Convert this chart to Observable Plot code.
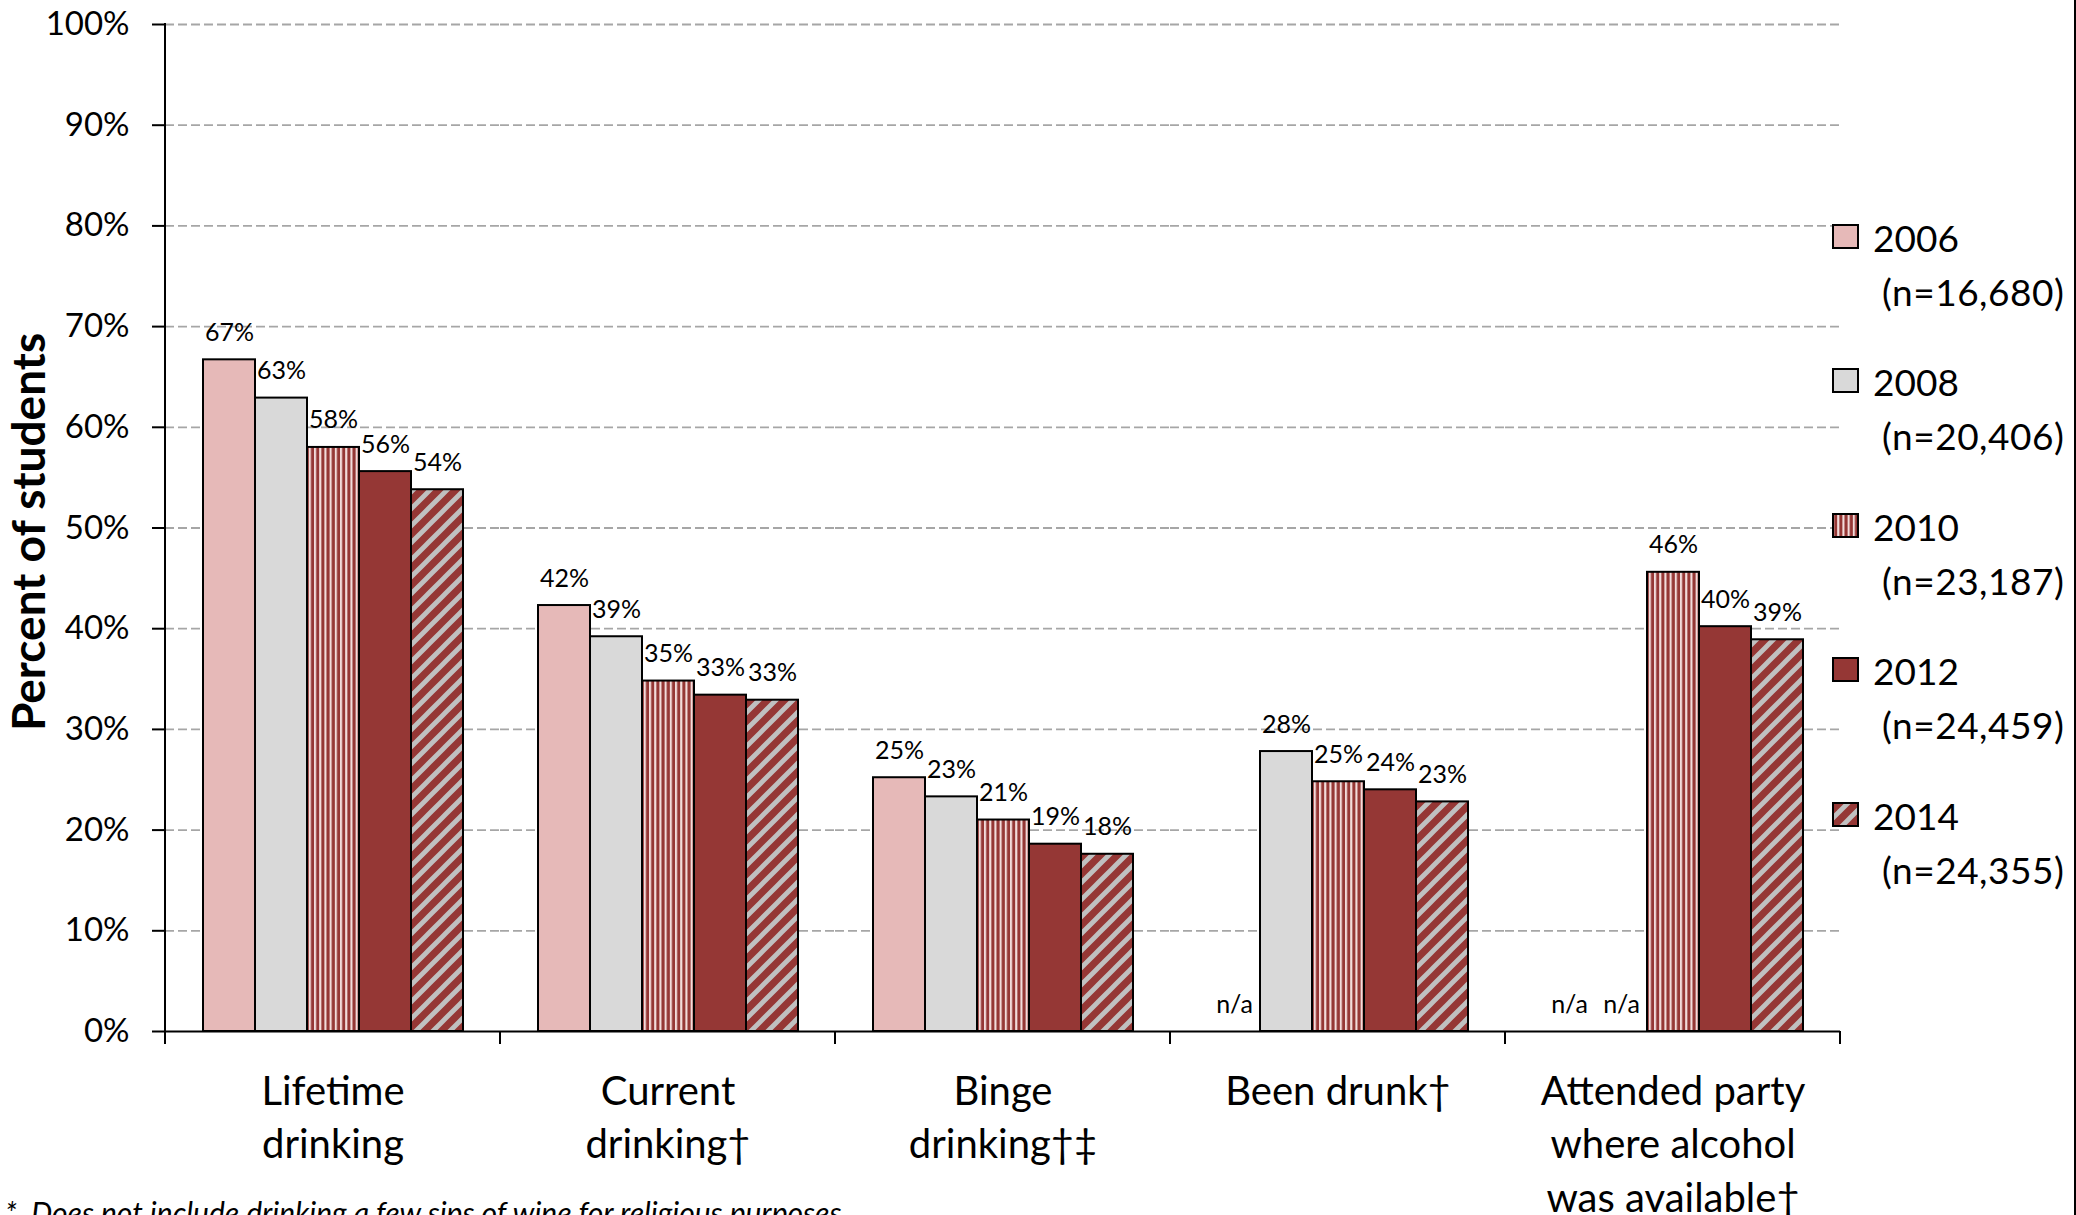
<!DOCTYPE html>
<html><head><meta charset="utf-8">
<script src="https://cdn.jsdelivr.net/npm/d3@7"></script>
<script src="https://cdn.jsdelivr.net/npm/@observablehq/plot@0.6"></script>
<style>
html,body{margin:0;padding:0;background:#fff;}
#wrap{position:relative;width:2076px;height:1215px;overflow:hidden;font-family:Lato,sans-serif;color:#000;background:#fff;}
#wrap svg.plot{position:absolute;left:0;top:0;}
.abs{position:absolute;white-space:pre;line-height:1;}
</style></head><body>
<svg width="0" height="0" style="position:absolute">
  <defs>
    <pattern id="p2010" patternUnits="userSpaceOnUse" width="5.2" height="10">
      <rect width="5.2" height="10" fill="#953735"/>
      <rect x="0" width="2.1" height="10" fill="#F2DCDB"/>
    </pattern>
    <pattern id="p2014" patternUnits="userSpaceOnUse" width="17" height="17">
      <rect width="17" height="17" fill="#953735"/>
      <path d="M-4.25,4.25L4.25,-4.25M0,17L17,0M12.75,21.25L21.25,12.75" stroke="#C0C0C0" stroke-width="4.8"/>
    </pattern>
  </defs>
</svg>
<div id="wrap"></div>
<script>
// ---- data ----
const categories = ["Lifetime\ndrinking", "Current\ndrinking\u2020", "Binge\ndrinking\u2020\u2021", "Been drunk\u2020", "Attended party\nwhere alcohol\nwas available\u2020"];
const years = ["2006", "2008", "2010", "2012", "2014"];
const sampleSizes = ["(n=16,680)", "(n=20,406)", "(n=23,187)", "(n=24,459)", "(n=24,355)"];
const values2006 = [66.7, 42.3, 25.2, null, null];
const values2008 = [62.9, 39.2, 23.3, 27.8, null];
const values2010 = [58.0, 34.8, 21.0, 24.8, 45.6];
const values2012 = [55.6, 33.4, 18.6, 24.0, 40.2];
const values2014 = [53.8, 32.9, 17.6, 22.8, 38.9];
const yTicks = [0, 10, 20, 30, 40, 50, 60, 70, 80, 90, 100];
const yearFills = ["#E6B9B8", "#D9D9D9", "url(#p2010)", "#953735", "url(#p2014)"];
const yTitle = "Percent of students";
const footnote = "*  Does not include drinking a few sips of wine for religious purposes";

const series = [values2006, values2008, values2010, values2012, values2014];
const data = [];
categories.forEach((c, i) => years.forEach((yr, j) => data.push({category: c, year: yr, value: series[j][i]})));

const plot = Plot.plot({
  width: 2076, height: 1215,
  marginTop: 24, marginBottom: 184, marginLeft: 163, marginRight: 234,
  style: {fontFamily: "Lato, sans-serif", background: "transparent", color: "#000"},
  fx: {domain: categories, padding: 0, label: null},
  x: {domain: years, paddingInner: 0, paddingOuter: 0.72, axis: null},
  y: {domain: [0, 100], label: null},
  color: {domain: years, range: yearFills},
  marks: [
    Plot.gridY(yTicks.filter(t => t > 0), {stroke: "#A6A6A6", strokeOpacity: 1, strokeWidth: 1.8, strokeDasharray: "9,4"}),
    Plot.barY(data.filter(d => d.value != null), {fx: "category", x: "year", y: "value", fill: "year", stroke: "#000", strokeWidth: 2}),
    Plot.text(data, {fx: "category", x: "year", y: d => d.value ?? 0,
      text: d => d.value == null ? "n/a" : Math.round(d.value) + "%",
      lineAnchor: "bottom", dy: -19, fontSize: 25, fill: "#000"}),
    Plot.ruleY([0], {stroke: "#000", strokeWidth: 2}),
    Plot.axisY(yTicks, {anchor: "left", tickFormat: d => d + "%", tickSize: 13, tickPadding: 23, fontSize: 33, strokeWidth: 2, label: null}),
    Plot.axisFx({anchor: "bottom", tickSize: 0, tickPadding: 36, fontSize: 40, lineHeight: 1.33, label: null})
  ]
});
plot.classList.add("plot");
const wrap = document.getElementById("wrap");
wrap.appendChild(plot);

// axis line and category boundary ticks, placed through Plot's scales
const fxs = plot.scale("fx"), ys = plot.scale("y");
const bw = fxs.bandwidth;
const edges = categories.map(c => fxs.apply(c));
edges.push(fxs.apply(categories[categories.length - 1]) + bw);
const y0 = ys.apply(0), y100 = ys.apply(100);
const g = d3.select(plot).append("g").attr("stroke", "#000").attr("stroke-width", 2);
g.append("line").attr("x1", edges[0]).attr("x2", edges[0]).attr("y1", y100 - 1).attr("y2", y0 + 1);
edges.forEach(x => g.append("line").attr("x1", x).attr("x2", x).attr("y1", y0).attr("y2", y0 + 13));

// legend
years.forEach((yr, i) => {
  const top = 219 + i * 144.4;
  const sw = document.createElementNS("http://www.w3.org/2000/svg", "svg");
  sw.setAttribute("width", 27); sw.setAttribute("height", 25);
  sw.style.position = "absolute"; sw.style.left = "1832px"; sw.style.top = (top + 5) + "px";
  sw.innerHTML = `<rect x="1" y="1" width="25" height="23" fill="${yearFills[i]}" stroke="#000" stroke-width="2"/>`;
  wrap.appendChild(sw);
  const t1 = document.createElement("div");
  t1.className = "abs"; t1.style.left = "1873px"; t1.style.top = top + "px"; t1.style.fontSize = "37px";
  t1.textContent = yr; wrap.appendChild(t1);
  const t2 = document.createElement("div");
  t2.className = "abs"; t2.style.left = "1882px"; t2.style.top = (top + 54) + "px"; t2.style.fontSize = "37px";
  t2.style.letterSpacing = "0.5px";
  t2.textContent = sampleSizes[i]; wrap.appendChild(t2);
});

// y title
const yt = document.createElement("div");
yt.className = "abs";
yt.style.cssText += "left:28px;top:532px;transform:translate(-50%,-50%) rotate(-90deg);font-size:46px;font-weight:700;";
yt.textContent = yTitle;
wrap.appendChild(yt);

// footnote
const fn = document.createElement("div");
fn.className = "abs";
fn.style.cssText += "left:5px;top:1197px;font-size:30px;font-style:italic;";
fn.textContent = footnote;
wrap.appendChild(fn);

// right border
const rb = document.createElement("div");
rb.style.cssText = "position:absolute;left:2074px;top:0;width:2px;height:1215px;background:#000;";
wrap.appendChild(rb);
</script>
</body></html>
